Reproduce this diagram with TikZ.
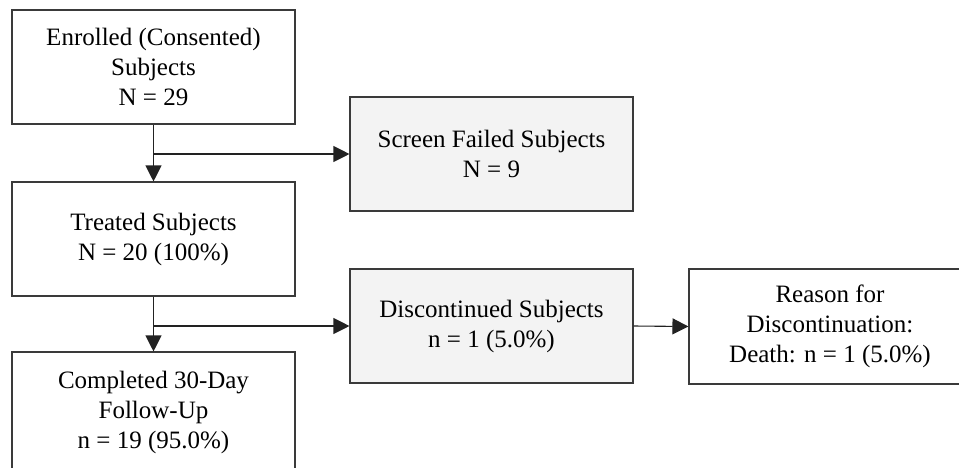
\documentclass[tikz,border=0pt]{standalone}
\usepackage{fontspec}
\setmainfont{Liberation Serif}
\usetikzlibrary{arrows.meta}
\definecolor{boxgray}{HTML}{F3F3F3}
\definecolor{edge}{HTML}{3A3A3A}
\definecolor{wire}{HTML}{222222}
\begin{document}
\begin{tikzpicture}[x=1pt,y=-1pt,
  every node/.style={font=\fontsize{25}{30}\selectfont, align=center, inner sep=0pt},
  flowbox/.style={draw=edge, line width=1.1pt, fill=white, minimum width=283pt, minimum height=114pt},
  graybox/.style={flowbox, fill=boxgray},
  wirearrow/.style={draw=wire, line width=1.1pt, -{Triangle[length=16pt,width=16pt]}}]
\useasboundingbox (0,0) rectangle (959,467);
\clip (0,0) rectangle (959,467);
\node[flowbox] (enr) at (153.5,67) {Enrolled (Consented)\\Subjects\\N = 29};
\node[flowbox] (trt) at (153.5,239) {Treated Subjects\\N = 20 (100\%)};
\node[flowbox, minimum height=120pt] (comp) at (153.5,412) {Completed 30-Day\\Follow-Up\\n = 19 (95.0\%)};
\node[graybox] (scr) at (491.5,154) {Screen Failed Subjects\\N = 9};
\node[graybox] (dis) at (491.5,326) {Discontinued Subjects\\n = 1 (5.0\%)};
\node[flowbox, minimum width=282pt, minimum height=115pt] (rea) at (830,326.5) {Reason for\\Discontinuation:\\Death: n = 1 (5.0\%)};
\coordinate (b1) at (enr.south |- scr.west);
\coordinate (b2) at (trt.south |- dis.west);
\draw[wirearrow] (enr.south) -- (trt.north);
\draw[wirearrow] (b1) -- (scr.west);
\draw[wirearrow] (trt.south) -- (comp.north);
\draw[wirearrow] (b2) -- (dis.west);
\draw[wirearrow] (dis.east) -- (rea.west);
\end{tikzpicture}
\end{document}
